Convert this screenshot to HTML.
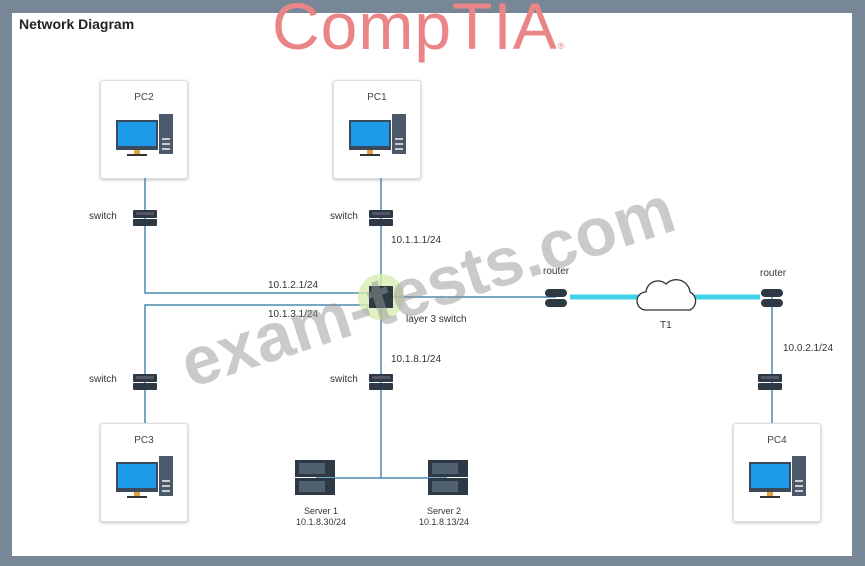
<!DOCTYPE html>
<html><head><style>
body{margin:0;width:865px;height:566px;background:#778797;position:relative;overflow:hidden;font-family:"Liberation Sans",sans-serif}
.panel{position:absolute;left:12px;top:13px;width:840px;height:543px;background:#fff}
.t{position:absolute;font-size:10px;color:#333;white-space:nowrap}
.box{position:absolute;width:86px;height:97px;background:#fff;border:1px solid #ddd;border-radius:3px;box-shadow:0 1px 3px rgba(0,0,0,.25)}
.box .l{position:absolute;top:11px;width:100%;text-align:center;font-size:10px;color:#444}
</style></head><body>
<div class="panel"></div>
<div class="t" style="left:19px;top:16px;font-size:14px;font-weight:bold;color:#222">Network Diagram</div>
<div class="t" style="left:272px;top:-12px;font-size:66px;color:#ea8587;letter-spacing:1px">CompTIA<span style="font-size:9px">®</span></div>
<div class="box" style="left:100px;top:80px"><div class="l">PC2</div></div>
<div class="box" style="left:333px;top:80px"><div class="l">PC1</div></div>
<div class="box" style="left:100px;top:423px"><div class="l">PC3</div></div>
<div class="box" style="left:733px;top:423px"><div class="l">PC4</div></div>
<svg width="865" height="566" style="position:absolute;left:0;top:0">
<defs>
<g id="pc"><rect x="0" y="0" width="42" height="30" fill="#3a4a5a"/><rect x="2" y="2" width="38" height="24" fill="#1e9be8"/><rect x="18" y="30" width="6" height="4" fill="#e0a040"/><rect x="11" y="34" width="20" height="2" fill="#333"/><rect x="43" y="-6" width="14" height="40" fill="#4a5a6a"/><rect x="46" y="18" width="8" height="2" fill="#ccc"/><rect x="46" y="23" width="8" height="2" fill="#ccc"/><rect x="46" y="28" width="8" height="2" fill="#ccc"/></g>
<g id="sw"><rect x="-12" y="-8" width="24" height="8" rx="1" fill="#2d3a45"/><rect x="-12" y="1" width="24" height="7" rx="1" fill="#2d3a45"/><rect x="-9" y="-6" width="18" height="3" fill="#556"/></g>
<g id="rt"><rect x="-11" y="-10" width="22" height="8" rx="4" fill="#2d3a45"/><rect x="-11" y="0" width="22" height="8" rx="4" fill="#2d3a45"/></g>
<g id="sv"><rect x="-20" y="-18" width="40" height="17" fill="#2d3a45"/><rect x="-20" y="0" width="40" height="17" fill="#2d3a45"/><rect x="-16" y="-15" width="26" height="11" fill="#506070"/><rect x="-16" y="3" width="26" height="11" fill="#506070"/></g>
</defs>
<g stroke="#4a8ab0" stroke-width="1.5" fill="none">
<path d="M145 178V293H381"/><path d="M145 423V305H381"/><path d="M381 178V478"/><path d="M316 478H447"/><path d="M381 297H556"/><path d="M772 297V423"/>
</g>
<path d="M570 297H642M693 297H760" stroke="#40d0e8" stroke-width="5"/>
<path d="M646 310h44a10 10 0 0 0 0-18a14 14 0 0 0-24-8a12 12 0 0 0-20 8a9 9 0 0 0 0 18z" fill="#fff" stroke="#333" stroke-width="1.3"/>
<use href="#pc" x="116" y="120"/><use href="#pc" x="349" y="120"/><use href="#pc" x="116" y="462"/><use href="#pc" x="749" y="462"/>
<use href="#sw" x="145" y="218"/><use href="#sw" x="381" y="218"/><use href="#sw" x="145" y="382"/><use href="#sw" x="381" y="382"/><use href="#sw" x="770" y="382"/>
<circle cx="381" cy="297" r="23" fill="#d8ecb0" opacity=".8"/><rect x="369" y="286" width="24" height="22" fill="#2d3a45"/>
<use href="#rt" x="556" y="299"/><use href="#rt" x="772" y="299"/>
<use href="#sv" x="315" y="478"/><use href="#sv" x="448" y="478"/>
</svg>
<div class="t" style="left:89px;top:211px">switch</div>
<div class="t" style="left:330px;top:211px">switch</div>
<div class="t" style="left:89px;top:374px">switch</div>
<div class="t" style="left:330px;top:374px">switch</div>
<div class="t" style="left:391px;top:235px">10.1.1.1/24</div>
<div class="t" style="left:268px;top:280px">10.1.2.1/24</div>
<div class="t" style="left:268px;top:309px">10.1.3.1/24</div>
<div class="t" style="left:406px;top:314px">layer 3 switch</div>
<div class="t" style="left:391px;top:354px">10.1.8.1/24</div>
<div class="t" style="left:543px;top:266px">router</div>
<div class="t" style="left:760px;top:268px">router</div>
<div class="t" style="left:660px;top:320px">T1</div>
<div class="t" style="left:783px;top:343px">10.0.2.1/24</div>
<div class="t" style="left:296px;top:506px;font-size:9px;text-align:center;line-height:11px">Server 1<br>10.1.8.30/24</div>
<div class="t" style="left:419px;top:506px;font-size:9px;text-align:center;line-height:11px">Server 2<br>10.1.8.13/24</div>
<div class="t" style="left:171px;top:329px;font-size:68px;font-weight:bold;color:rgba(150,150,150,.5);transform:rotate(-18deg);transform-origin:0 0">exam-tests.com</div>
</body></html>
